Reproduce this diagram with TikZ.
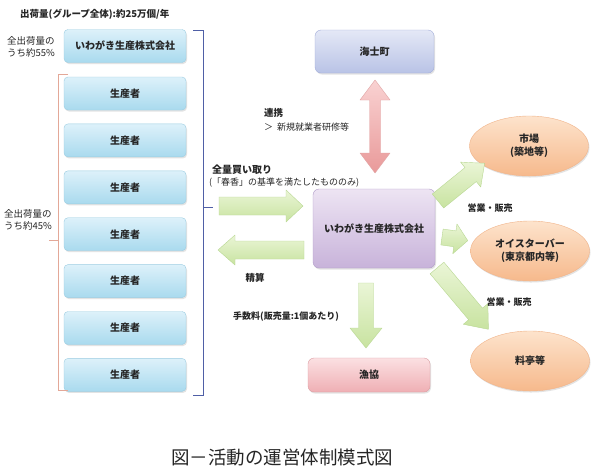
\documentclass[tikz,border=0pt]{standalone}
\usepackage{fontspec}
\setmainfont{Noto Sans CJK JP}
\usetikzlibrary{shapes.geometric,shadows}
\definecolor{txt}{HTML}{262626}
\definecolor{lbtop}{HTML}{DDF1FA}
\definecolor{lbbot}{HTML}{A9DAEE}
\definecolor{lbdraw}{HTML}{9CCDE2}
\definecolor{pptop}{HTML}{EDE4F3}
\definecolor{ppbot}{HTML}{C8B3DA}
\definecolor{ppdraw}{HTML}{B09CC8}
\definecolor{bltop}{HTML}{E4E8F6}
\definecolor{blbot}{HTML}{B9C3E6}
\definecolor{bldraw}{HTML}{A3AEDA}
\definecolor{pktop}{HTML}{FBE0E2}
\definecolor{pkbot}{HTML}{EFAFB4}
\definecolor{pkdraw}{HTML}{DC9EA3}
\definecolor{ortop}{HTML}{FDE3CC}
\definecolor{orbot}{HTML}{F6B98C}
\definecolor{ordraw}{HTML}{F1B48A}
\definecolor{grtop}{HTML}{EAF5D6}
\definecolor{grbot}{HTML}{C8E3A0}
\definecolor{grdraw}{HTML}{B9D893}
\definecolor{rdtop}{HTML}{F9D2D2}
\definecolor{rdbot}{HTML}{E99A9A}
\definecolor{rddraw}{HTML}{E0A3A3}
\definecolor{bluebr}{HTML}{4F5FA6}
\definecolor{redbr}{HTML}{E3A898}
\newcommand{\blkarrow}[8]{%
  \begin{scope}[shift={(#2,#3)},rotate=#4]
  \path[#1] (0,-#6) -- ({#5-#8},-#6) -- ({#5-#8},-#7) -- (#5,0) -- ({#5-#8},#7) -- ({#5-#8},#6) -- (0,#6) -- cycle;
  \end{scope}}
\begin{document}
\begin{tikzpicture}[x=1pt,y=-1pt,
  shad/.style={drop shadow={opacity=0.22,shadow xshift=1pt,shadow yshift=-1.5pt}},
  lbox/.style={draw=lbdraw,rounded corners=4pt,top color=lbtop,bottom color=lbbot,shad,
     minimum width=122pt,minimum height=33pt,inner sep=0pt,
     font=\fontsize{10}{12}\selectfont\bfseries,text=txt},
  rbox/.style={rounded corners=6pt,shad,inner sep=0pt,font=\fontsize{10}{12}\selectfont\bfseries,text=txt},
  oval/.style={ellipse,draw=ordraw,top color=ortop,bottom color=orbot,shad,
     minimum width=119pt,minimum height=60pt,inner sep=0pt,align=center,
     font=\fontsize{10}{13}\selectfont\bfseries,text=txt},
  lab/.style={inner sep=0pt,text=txt,font=\fontsize{9.5}{12}\selectfont\bfseries},
  thin lab/.style={inner sep=0pt,text=txt,font=\fontsize{9.5}{12}\selectfont,align=left},
  garrow/.style={draw=grdraw,top color=grtop,bottom color=grbot,line join=round},
  rarrow/.style={draw=rddraw,top color=rdtop,bottom color=rdbot,line join=round},
  bracket/.style={line width=1pt}
]
\useasboundingbox[fill=white] (0,0) rectangle (596,475);

% title
\node[lab,anchor=west] (title) at (20,14) {出荷量(グループ全体):約25万個/年};

% left column
\node[lbox] (co) at (125,46) {いわがき生産株式会社};
\foreach \i in {0,...,6}{
  \node[lbox] (p\i) at (125,{93.5+46.9*\i}) {生産者};
}
\node[thin lab,anchor=west] (l55) at (7,47) {全出荷量の\\うち約55\%};
\node[thin lab,anchor=west] (l45) at (4,220) {全出荷量の\\うち約45\%};

% brackets
\draw[bracket,bluebr] (193,30) -- (203,30) -- (203,395) -- (193,395);
\draw[bracket,bluebr] (203,207) -- (213,207);
\draw[bracket,redbr] (68,74) -- (58,74) -- (58,390) -- (68,390);
\draw[bracket,redbr] (58,240) -- (49,240);

% center nodes
\node[rbox,draw=bldraw,top color=bltop,bottom color=blbot,minimum width=119pt,minimum height=43pt] (ama) at (374.5,51.5) {海士町};
\node[rbox,draw=ppdraw,top color=pptop,bottom color=ppbot,minimum width=122pt,minimum height=79pt] (ctr) at (374,228.5) {いわがき生産株式会社};
\node[rbox,draw=pkdraw,top color=pktop,bottom color=pkbot,minimum width=122pt,minimum height=34pt] (gyo) at (369,375) {漁協};

% ellipses
\node[oval] (ichiba) at (529,146) {市場\\(築地等)};
\node[oval] (oyster) at (530,251) {オイスターバー\\(東京都内等)};
\node[oval] (ryotei) at (530,361) {料亭等};

% double arrow
\path[rarrow] (375,80) -- (390,100) -- (380.5,100) -- (380.5,153) -- (390,153) -- (375,173)
  -- (360,153) -- (369.5,153) -- (369.5,100) -- (360,100) -- cycle;

% green block arrows
\blkarrow{garrow}{219}{206}{0}{84}{9}{16}{17}
\blkarrow{garrow}{304}{250}{180}{86}{9}{15}{17}
\blkarrow{garrow}{366}{283}{-90}{65}{7.5}{16}{20}
\blkarrow{garrow}{438}{201}{39}{60}{9}{16}{18}
\blkarrow{garrow}{442}{237}{-8}{26}{8}{15}{13}
\blkarrow{garrow}{437}{268}{-50}{80}{9}{16}{20}

% labels
\node[lab,anchor=west] (renkei) at (264,113) {連携};
\node[lab,anchor=west,font=\fontsize{9}{12}\selectfont] (kenshu) at (264,127) {＞\hspace{4pt}新規就業者研修等};
\node[lab,anchor=west,font=\fontsize{10}{12}\selectfont\bfseries] (kaitori) at (212,170) {全量買い取り};
\node[lab,anchor=west,font=\fontsize{9}{12}\selectfont] (kijun) at (209,183) {(「春香」の基準を満たしたもののみ)};
\node[lab] (seisan) at (255,278) {精算};
\node[lab,anchor=west,font=\fontsize{9}{12}\selectfont\bfseries] (tesu) at (233,317) {手数料(販売量:1個あたり)};
\node[lab,font=\fontsize{9}{12}\selectfont\bfseries] (eigyo1) at (490,208) {営業・販売};
\node[lab,font=\fontsize{9}{12}\selectfont\bfseries] (eigyo2) at (509,302) {営業・販売};

% caption
\node[inner sep=0pt,text=txt,font=\fontsize{18.5}{22}\selectfont] (cap) at (282,457) {図－活動の運営体制模式図};
\end{tikzpicture}
\end{document}
